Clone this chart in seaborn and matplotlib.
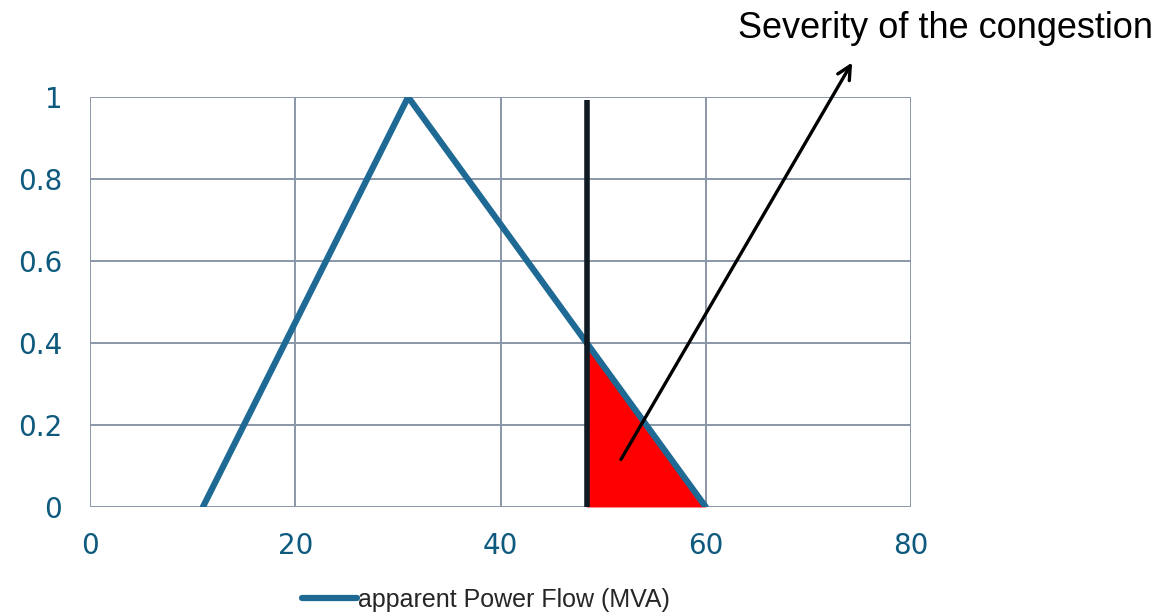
import numpy as np
import pandas as pd
import matplotlib
matplotlib.use("Agg")
import matplotlib.pyplot as plt
import seaborn as sns

# membership function of the apparent power flow
flow_x = [11, 31, 60]
flow_y = [0, 1, 0]
limit_x = 48.4
arrow_start = (51.6, 0.11)
arrow_end = (74.4, 1.09)
x_ticks = [0, 20, 40, 60, 80]
y_ticks = [0, 0.2, 0.4, 0.6, 0.8, 1]
y_labels = ["0", "0.2", "0.4", "0.6", "0.8", "1"]

sns.set_theme(style="white")
plt.rcParams['font.family'] = ['DejaVu Sans']

line_col = "#1f6a94"
tick_col = "#0e5a7e"
grid_col = "#8a97a6"

df = pd.DataFrame({"x": flow_x, "y": flow_y})

fig = plt.figure(figsize=(11.66, 6.16), dpi=100)
ax = fig.add_axes([0.0772, 0.177, 0.7041, 0.6655])

# red area beyond the limit
fx = [limit_x, flow_x[2]]
fy = np.interp(fx, flow_x, flow_y)
ax.fill_between(fx, fy, 0, color="red", lw=0, zorder=2)

sns.lineplot(data=df, x="x", y="y", ax=ax, color=line_col, lw=3.2,
             label="apparent Power Flow (MVA)", zorder=3, legend=False)
ax.plot([limit_x, limit_x], [-0.005, 0.993], color="#0f1a22", lw=4,
        solid_capstyle="butt", zorder=4)

ax.set_xlim(0, 80)
ax.set_ylim(0, 1)
ax.set_xticks(x_ticks)
ax.set_yticks(y_ticks)
ax.set_yticklabels(y_labels)
ax.set_xlabel("")
ax.set_ylabel("")
ax.grid(True, color=grid_col, lw=1.4)
ax.set_axisbelow(True)
for s in ax.spines.values():
    s.set_visible(False)
ax.tick_params(axis="both", length=0, labelsize=20, colors=tick_col)
ax.tick_params(axis="x", pad=18)
ax.tick_params(axis="y", pad=20)
for lab in ax.get_yticklabels():
    lab.set_horizontalalignment("right")

ax.annotate("", xy=arrow_end, xytext=arrow_start, xycoords="data",
            arrowprops=dict(arrowstyle="->", color="black", lw=2.4,
                            mutation_scale=24), annotation_clip=False)

fig.text(946 / 1166, 1 - 29 / 616, "Severity of the congestion",
         family="Liberation Sans", fontsize=26, ha="center", va="center",
         color="black")

h, l = ax.get_legend_handles_labels()
h[0].set_linewidth(4.5)
leg = fig.legend(h, l, loc="center", bbox_to_anchor=(0.417, 1 - 600 / 616),
                 frameon=False, handlelength=2.2, handletextpad=0.05,
                 prop={"family": "Liberation Sans", "size": 18})

fig.savefig("out.png", dpi=100)
